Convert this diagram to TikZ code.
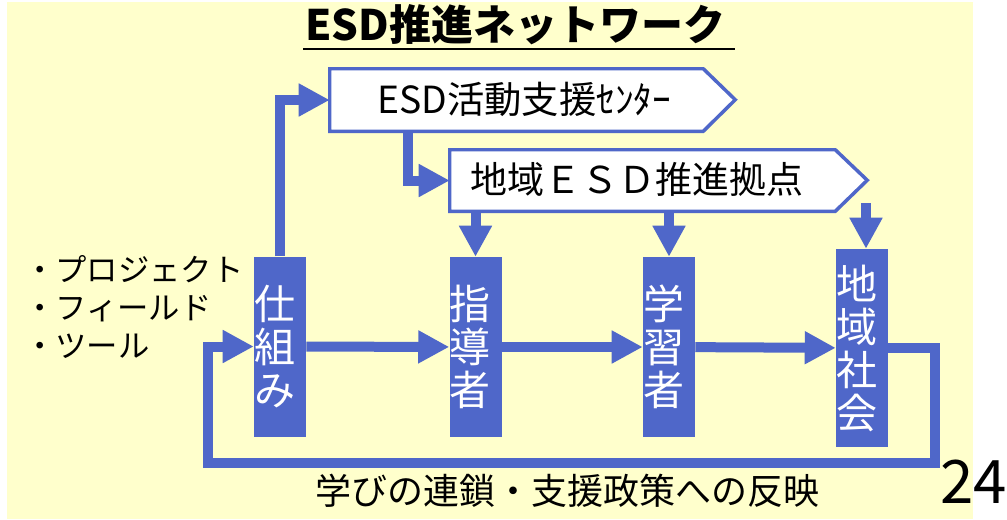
\documentclass[tikz,border=0pt]{standalone}
\usepackage{fontspec}
\setmainfont{Noto Sans CJK JP}
\usetikzlibrary{arrows.meta}
\definecolor{bgyel}{HTML}{FFFFCC}
\definecolor{esdblue}{HTML}{4F67C9}
\begin{document}
\begin{tikzpicture}[x=0.75pt,y=-0.75pt,
  conn/.style={draw=esdblue, line width=7.5pt, -{Triangle[length=23.25pt,width=23.25pt]}},
  bluebox/.style={fill=esdblue, draw=none, minimum width=39pt, minimum height=135pt, inner sep=0pt, text=white, align=left, text width=39pt, font=\fontsize{30.75pt}{32.25pt}\selectfont},
  sigbox/.style={fill=white, draw=esdblue, line width=2.6pt},
  frame/.style={draw=none, inner sep=0pt},
  lbl/.style={inner sep=0pt, anchor=base west}]
\useasboundingbox (0,0) rectangle (1007,519);
\fill[white] (0,0) rectangle (1007,519);
\fill[bgyel] (7,2) rectangle (973,519);

% title
\node[lbl, font=\bfseries\fontsize{31.5pt}{36pt}\selectfont] (title) at (305,40) {ESD推進ネットワーク};
\draw[line width=1.5pt] ([shift={(-2,9)}]title.base west) -- ([shift={(10,9)}]title.base east);

% blue boxes
\node[bluebox] (sk) at (280,346.5) {仕\\組\\み};
\node[bluebox] (sd) at (475.5,347) {指\\導\\者};
\node[bluebox] (gs) at (669,347) {学\\習\\者};
\node[bluebox, minimum height=148.5pt] (cs) at (862,348) {地\\域\\社\\会};

% pentagon boxes
\node[frame, minimum width=279.75pt, minimum height=46.5pt] (b1) at (516.5,100) {};
\draw[sigbox] (b1.north west) -- (b1.north east) -- ++(32,31) -- (b1.south east) -- (b1.south west) -- cycle;
\node[lbl, font=\fontsize{28pt}{32pt}\selectfont] (t1) at (377,113) {ESD活動支援ｾﾝﾀｰ};

\node[frame, minimum width=288.75pt, minimum height=45.75pt] (b2) at (642.5,180.5) {};
\draw[sigbox] (b2.north west) -- (b2.north east) -- ++(32,30.5) -- (b2.south east) -- (b2.south west) -- cycle;
\node[lbl, font=\fontsize{27.75pt}{32pt}\selectfont] (t2) at (470,193) {地域ＥＳＤ推進拠点};

% connectors
\draw[conn] (sk.north) |- (b1.west);
\draw[conn] ([xshift=58.5pt]b1.south west) |- (b2.west);
\draw[conn] (b2.south -| sd.north) -- (sd.north);
\draw[conn] (b2.south -| gs.north) -- (gs.north);
\coordinate (c3) at (866,203);
\draw[conn] (c3) -- (c3 |- cs.north);
\draw[conn] (sk) -- (sd);
\draw[conn] (sd) -- (gs);
\draw[conn] (gs) -- (cs);
\coordinate (fa) at (935,463);
\coordinate (fb) at (208,463);
\draw[conn] (cs.east) -| (fa) -- (fb) |- (sk.west);

% left list
\node[lbl, font=\fontsize{23.5pt}{28.5pt}\selectfont] (l1) at (24,281) {・プロジェクト};
\node[lbl, font=\fontsize{23.5pt}{28.5pt}\selectfont] (l2) at (24,319) {・フィールド};
\node[lbl, font=\fontsize{23.5pt}{28.5pt}\selectfont] (l3) at (24,357) {・ツール};

% bottom caption
\node[lbl, font=\fontsize{27pt}{32pt}\selectfont] (cap) at (315,504) {学びの連鎖・支援政策への反映};

% page number
\node[lbl, font=\fontsize{45pt}{50pt}\selectfont] (pg) at (940,503) {24};
\end{tikzpicture}
\end{document}
